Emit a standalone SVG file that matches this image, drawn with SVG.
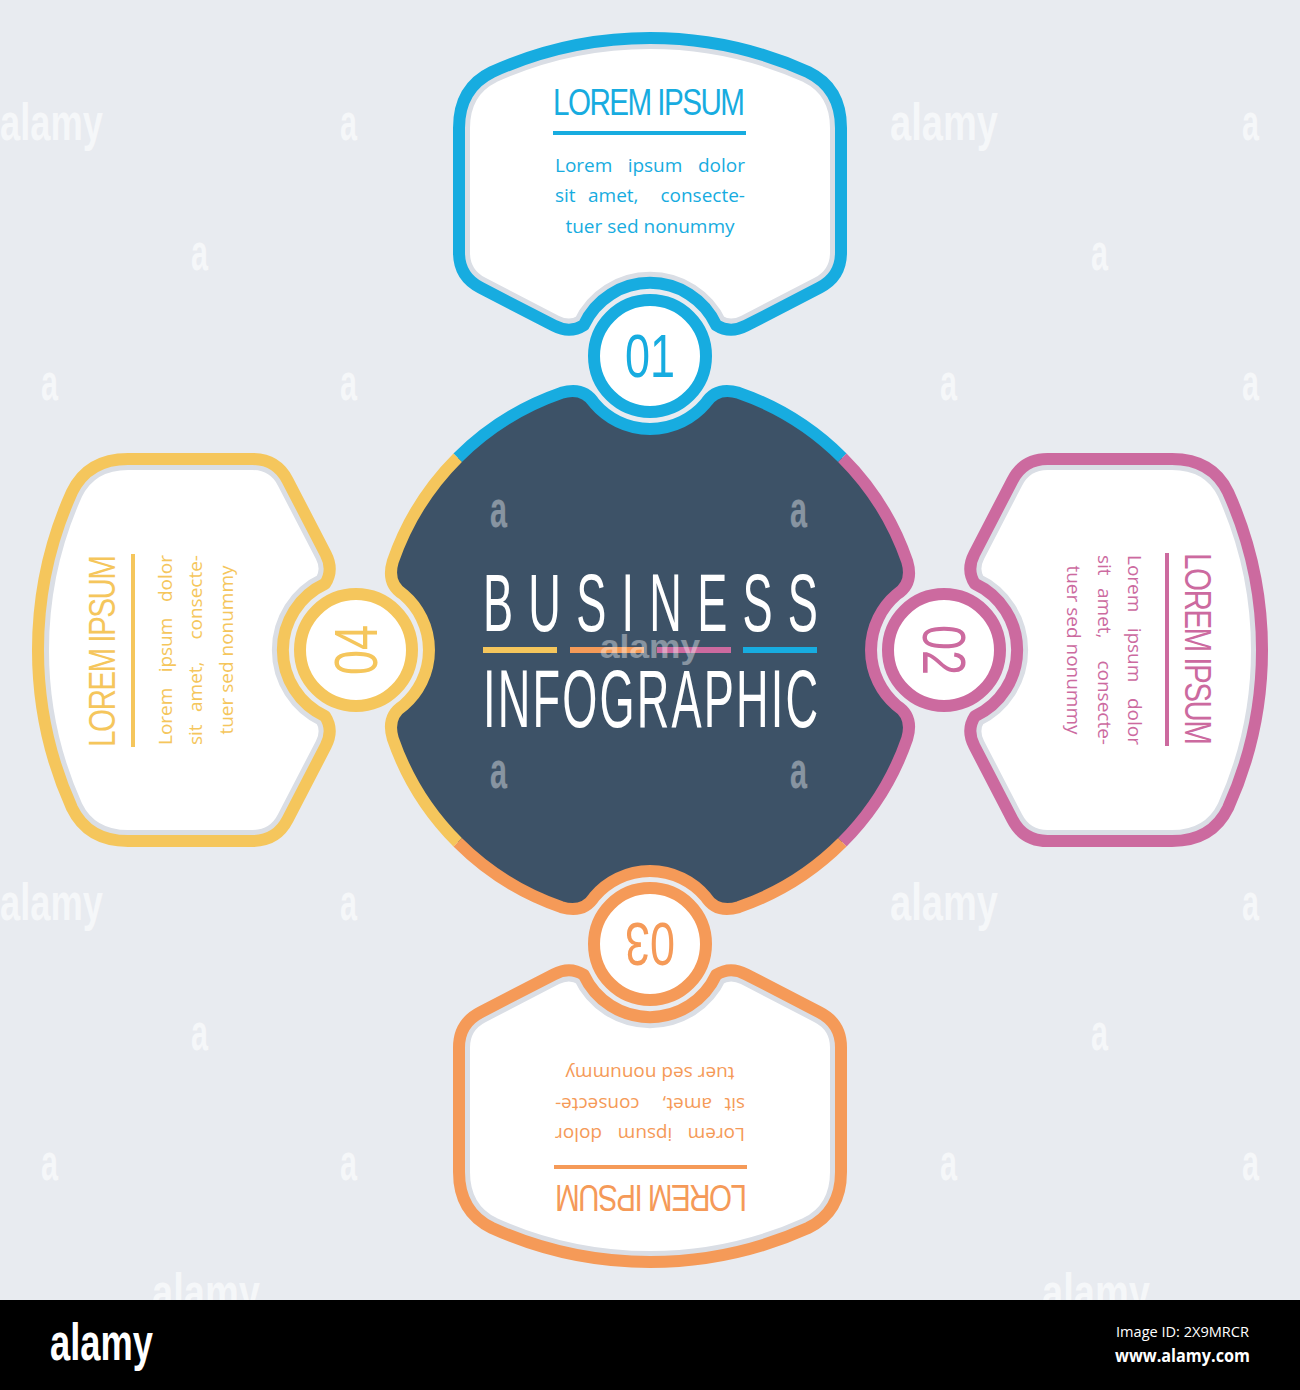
<svg xmlns="http://www.w3.org/2000/svg" xmlns:xlink="http://www.w3.org/1999/xlink" width="1300" height="1390" viewBox="0 0 1300 1390">
<style>
  .bg { fill: #E8EBF0; }
  .hubfill { fill: #3D5267; }
  .paper { fill: #FFFFFF; }
  .lining { fill: none; stroke: #DADEE5; stroke-width: 22; }
  .edge { fill: none; stroke: currentColor; stroke-width: 12; stroke-linejoin: round; }
  .ring { fill: #FFFFFF; stroke: currentColor; stroke-width: 12; }
  .ink { fill: currentColor; }
  .title { font-family: "Liberation Sans Narrow", "Liberation Sans", sans-serif; font-size: 37px; }
  .num { font-family: "Liberation Sans Narrow", "Liberation Sans", sans-serif; font-size: 61px; }
  .body { font-family: "Open Sans", "Liberation Sans", sans-serif; font-size: 19px; }
  .big { font-family: "Liberation Sans Narrow", "Liberation Sans", sans-serif; font-size: 82px; fill: #FFFFFF; }
  .c1 { color: #17ACE0; }
  .c2 { color: #CC6A9F; }
  .c3 { color: #F59A58; }
  .c4 { color: #F5C65C; }
  .wm { font-family: "Liberation Sans Narrow", "Liberation Sans", sans-serif; font-weight: bold; font-size: 52px; fill: #FFFFFF; opacity: 0.6; }
  .wmd { font-family: "Liberation Sans Narrow", "Liberation Sans", sans-serif; font-weight: bold; font-size: 52px; fill: #FFFFFF; opacity: 0.38; }
</style>
<defs>
  <path id="panelShape" d="M 459 252.6 L 459 128 Q 459 88 492 72 A 384 384 0 0 1 808 72 Q 841 88 841 128 L 841 252.6 Q 841 276.6 819.6 287.6 L 746 325.7 Q 730 334 716.2 325.1 A 73 73 0 0 0 583.8 325.1 Q 570 334 554 325.7 L 480.4 287.6 Q 459 276.6 459 252.6 Z"/>
  <clipPath id="panelClip"><use xlink:href="#panelShape" href="#panelShape"/></clipPath>
  <path id="seg" d="M 457.67 457.67 A 272 272 0 0 1 561.4 392.8 Q 583.6 386.2 594.5 403.4 A 73 73 0 0 0 705.5 403.4 Q 716.4 386.2 738.6 392.8 A 272 272 0 0 1 842.33 457.67"/>
</defs>

<rect class="bg" x="0" y="0" width="1300" height="1390"/>

<g id="hub">
  <path class="hubfill" d="M 457.67 457.67 A 272 272 0 0 1 561.4 392.8 Q 583.6 386.2 594.5 403.4 A 73 73 0 0 0 705.5 403.4 Q 716.4 386.2 738.6 392.8 A 272 272 0 0 1 842.33 457.67 A 272 272 0 0 1 907.2 561.4 Q 913.8 583.6 896.6 594.5 A 73 73 0 0 0 896.6 705.5 Q 913.8 716.4 907.2 738.6 A 272 272 0 0 1 842.33 842.33 A 272 272 0 0 1 738.6 907.2 Q 716.4 913.8 705.5 896.6 A 73 73 0 0 0 594.5 896.6 Q 583.6 913.8 561.4 907.2 A 272 272 0 0 1 457.67 842.33 A 272 272 0 0 1 392.8 738.6 Q 386.2 716.4 403.4 705.5 A 73 73 0 0 0 403.4 594.5 Q 386.2 583.6 392.8 561.4 A 272 272 0 0 1 457.67 457.67 Z"/>
</g>

<g id="connectors">
  <use xlink:href="#seg" href="#seg" class="edge c1"/>
  <use xlink:href="#seg" href="#seg" class="edge c2" transform="rotate(90 650 650)"/>
  <use xlink:href="#seg" href="#seg" class="edge c3" transform="rotate(180 650 650)"/>
  <use xlink:href="#seg" href="#seg" class="edge c4" transform="rotate(270 650 650)"/>
</g>

<g id="node-01" class="c1">
  <use xlink:href="#panelShape" href="#panelShape" class="paper"/>
  <use xlink:href="#panelShape" href="#panelShape" class="lining" clip-path="url(#panelClip)"/>
  <use xlink:href="#panelShape" href="#panelShape" class="edge"/>
  <circle class="ring" cx="650" cy="356" r="56"/>
  <text class="num ink" x="650" y="377" text-anchor="middle" textLength="50" lengthAdjust="spacingAndGlyphs">01</text>
  <text class="title ink" x="0" y="0" transform="translate(553 115) scale(0.8 1)" textLength="240" lengthAdjust="spacing">LOREM IPSUM</text>
  <rect class="ink" x="553" y="131" width="193" height="4"/>
  <text class="body ink" x="555" y="172">Lorem</text>
  <text class="body ink" x="655" y="172" text-anchor="middle">ipsum</text>
  <text class="body ink" x="745" y="172" text-anchor="end">dolor</text>
  <text class="body ink" x="555" y="202">sit</text>
  <text class="body ink" x="588" y="202">amet,</text>
  <text class="body ink" x="745" y="202" text-anchor="end">consecte-</text>
  <text class="body ink" x="650" y="233" text-anchor="middle">tuer sed nonummy</text>
</g>

<g id="node-02" class="c2" transform="rotate(90 650 650)">
  <use xlink:href="#panelShape" href="#panelShape" class="paper"/>
  <use xlink:href="#panelShape" href="#panelShape" class="lining" clip-path="url(#panelClip)"/>
  <use xlink:href="#panelShape" href="#panelShape" class="edge"/>
  <circle class="ring" cx="650" cy="356" r="56"/>
  <text class="num ink" x="650" y="377" text-anchor="middle" textLength="50" lengthAdjust="spacingAndGlyphs">02</text>
  <text class="title ink" x="0" y="0" transform="translate(553 115) scale(0.8 1)" textLength="240" lengthAdjust="spacing">LOREM IPSUM</text>
  <rect class="ink" x="553" y="131" width="193" height="4"/>
  <text class="body ink" x="555" y="172">Lorem</text>
  <text class="body ink" x="655" y="172" text-anchor="middle">ipsum</text>
  <text class="body ink" x="745" y="172" text-anchor="end">dolor</text>
  <text class="body ink" x="555" y="202">sit</text>
  <text class="body ink" x="588" y="202">amet,</text>
  <text class="body ink" x="745" y="202" text-anchor="end">consecte-</text>
  <text class="body ink" x="650" y="233" text-anchor="middle">tuer sed nonummy</text>
</g>

<g id="node-03" class="c3" transform="rotate(180 650 650)">
  <use xlink:href="#panelShape" href="#panelShape" class="paper"/>
  <use xlink:href="#panelShape" href="#panelShape" class="lining" clip-path="url(#panelClip)"/>
  <use xlink:href="#panelShape" href="#panelShape" class="edge"/>
  <circle class="ring" cx="650" cy="356" r="56"/>
  <text class="num ink" x="650" y="377" text-anchor="middle" textLength="50" lengthAdjust="spacingAndGlyphs">03</text>
  <text class="title ink" x="0" y="0" transform="translate(553 115) scale(0.8 1)" textLength="240" lengthAdjust="spacing">LOREM IPSUM</text>
  <rect class="ink" x="553" y="131" width="193" height="4"/>
  <text class="body ink" x="555" y="172">Lorem</text>
  <text class="body ink" x="655" y="172" text-anchor="middle">ipsum</text>
  <text class="body ink" x="745" y="172" text-anchor="end">dolor</text>
  <text class="body ink" x="555" y="202">sit</text>
  <text class="body ink" x="588" y="202">amet,</text>
  <text class="body ink" x="745" y="202" text-anchor="end">consecte-</text>
  <text class="body ink" x="650" y="233" text-anchor="middle">tuer sed nonummy</text>
</g>

<g id="node-04" class="c4" transform="rotate(270 650 650)">
  <use xlink:href="#panelShape" href="#panelShape" class="paper"/>
  <use xlink:href="#panelShape" href="#panelShape" class="lining" clip-path="url(#panelClip)"/>
  <use xlink:href="#panelShape" href="#panelShape" class="edge"/>
  <circle class="ring" cx="650" cy="356" r="56"/>
  <text class="num ink" x="650" y="377" text-anchor="middle" textLength="50" lengthAdjust="spacingAndGlyphs">04</text>
  <text class="title ink" x="0" y="0" transform="translate(553 115) scale(0.8 1)" textLength="240" lengthAdjust="spacing">LOREM IPSUM</text>
  <rect class="ink" x="553" y="131" width="193" height="4"/>
  <text class="body ink" x="555" y="172">Lorem</text>
  <text class="body ink" x="655" y="172" text-anchor="middle">ipsum</text>
  <text class="body ink" x="745" y="172" text-anchor="end">dolor</text>
  <text class="body ink" x="555" y="202">sit</text>
  <text class="body ink" x="588" y="202">amet,</text>
  <text class="body ink" x="745" y="202" text-anchor="end">consecte-</text>
  <text class="body ink" x="650" y="233" text-anchor="middle">tuer sed nonummy</text>
</g>

<g id="title">
  <text class="big" x="0" y="0" transform="translate(483 631) scale(0.55 1)" textLength="609" lengthAdjust="spacing">BUSINESS</text>
  <rect x="483" y="647" width="74" height="6" fill="#F5C65C"/>
  <rect x="570" y="647" width="74" height="6" fill="#F59A58"/>
  <rect x="657" y="647" width="74" height="6" fill="#CC6A9F"/>
  <rect x="743" y="647" width="74" height="6" fill="#17ACE0"/>
  <text class="big" x="0" y="0" transform="translate(483 727) scale(0.55 1)" textLength="609" lengthAdjust="spacing">INFOGRAPHIC</text>
</g>

<g id="watermark">
  <text class="wm" x="0" y="140" textLength="103" lengthAdjust="spacingAndGlyphs">alamy</text>
  <text class="wm" x="890" y="140" textLength="108" lengthAdjust="spacingAndGlyphs">alamy</text>
  <text class="wm" x="0" y="920" textLength="103" lengthAdjust="spacingAndGlyphs">alamy</text>
  <text class="wm" x="890" y="920" textLength="108" lengthAdjust="spacingAndGlyphs">alamy</text>
  <text class="wm" x="152" y="1310" textLength="108" lengthAdjust="spacingAndGlyphs">alamy</text>
  <text class="wm" x="1042" y="1310" textLength="108" lengthAdjust="spacingAndGlyphs">alamy</text>
  <text class="wm" x="340" y="140" textLength="17" lengthAdjust="spacingAndGlyphs">a</text>
  <text class="wm" x="1242" y="140" textLength="17" lengthAdjust="spacingAndGlyphs">a</text>
  <text class="wm" x="191" y="270" textLength="17" lengthAdjust="spacingAndGlyphs">a</text>
  <text class="wm" x="1091" y="270" textLength="17" lengthAdjust="spacingAndGlyphs">a</text>
  <text class="wm" x="41" y="400" textLength="17" lengthAdjust="spacingAndGlyphs">a</text>
  <text class="wm" x="340" y="400" textLength="17" lengthAdjust="spacingAndGlyphs">a</text>
  <text class="wm" x="940" y="400" textLength="17" lengthAdjust="spacingAndGlyphs">a</text>
  <text class="wm" x="1242" y="400" textLength="17" lengthAdjust="spacingAndGlyphs">a</text>
  <text class="wm" x="340" y="920" textLength="17" lengthAdjust="spacingAndGlyphs">a</text>
  <text class="wm" x="1242" y="920" textLength="17" lengthAdjust="spacingAndGlyphs">a</text>
  <text class="wm" x="191" y="1050" textLength="17" lengthAdjust="spacingAndGlyphs">a</text>
  <text class="wm" x="1091" y="1050" textLength="17" lengthAdjust="spacingAndGlyphs">a</text>
  <text class="wm" x="41" y="1180" textLength="17" lengthAdjust="spacingAndGlyphs">a</text>
  <text class="wm" x="340" y="1180" textLength="17" lengthAdjust="spacingAndGlyphs">a</text>
  <text class="wm" x="940" y="1180" textLength="17" lengthAdjust="spacingAndGlyphs">a</text>
  <text class="wm" x="1242" y="1180" textLength="17" lengthAdjust="spacingAndGlyphs">a</text>
  <text class="wmd" x="490" y="527" textLength="17" lengthAdjust="spacingAndGlyphs">a</text>
  <text class="wmd" x="790" y="527" textLength="17" lengthAdjust="spacingAndGlyphs">a</text>
  <text class="wmd" x="490" y="788" textLength="17" lengthAdjust="spacingAndGlyphs">a</text>
  <text class="wmd" x="790" y="788" textLength="17" lengthAdjust="spacingAndGlyphs">a</text>
  <text class="wmd" x="600" y="658" textLength="100" lengthAdjust="spacingAndGlyphs" style="font-size:34px">alamy</text>
</g>

<g id="footer">
  <rect x="0" y="1300" width="1300" height="90" fill="#000000"/>
  <text x="50" y="1360" font-family="Liberation Sans Narrow, Liberation Sans, sans-serif" font-weight="bold" font-size="52" fill="#FFFFFF" textLength="103" lengthAdjust="spacingAndGlyphs">alamy</text>
  <text x="1116" y="1337" font-family="Open Sans, Liberation Sans, sans-serif" font-size="15" fill="#FFFFFF" textLength="133" lengthAdjust="spacingAndGlyphs">Image ID: 2X9MRCR</text>
  <text x="1115" y="1362" font-family="Open Sans, Liberation Sans, sans-serif" font-weight="bold" font-size="18" fill="#FFFFFF" textLength="135" lengthAdjust="spacingAndGlyphs">www.alamy.com</text>
</g>
</svg>
